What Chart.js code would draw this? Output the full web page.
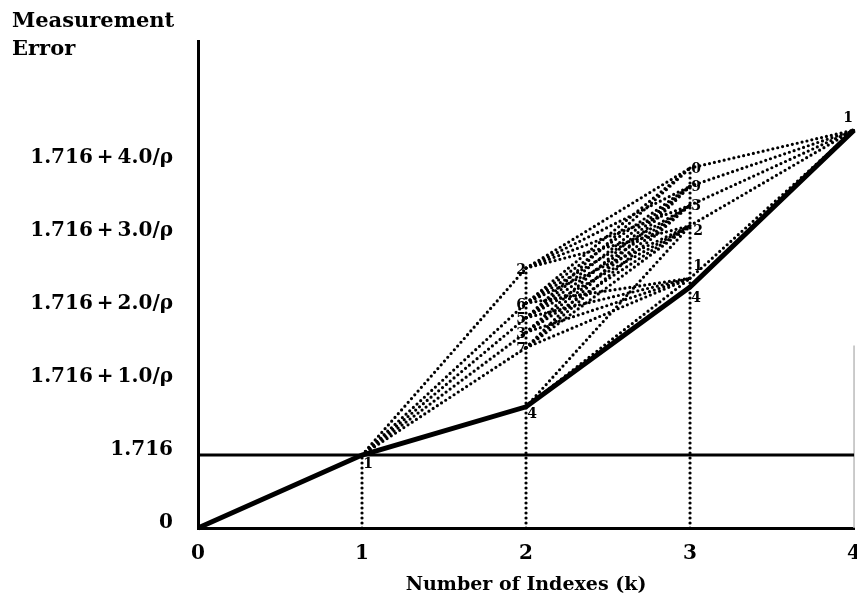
<!DOCTYPE html>
<html>
<head>
<meta charset="utf-8">
<script src="https://cdn.jsdelivr.net/npm/chart.js@4.4.1/dist/chart.umd.min.js"></script>
<style>
  html, body { margin: 0; padding: 0; background: #fff; overflow: hidden; }
  #wrap { width: 857px; height: 598px; overflow: hidden; }
</style>
</head>
<body>
<div id="wrap"><canvas id="chart" width="875" height="598"></canvas></div>
<script>
// y is in plot units: 1 unit = the 1.716 step = one 1.0/ρ step
const kTicks = [0, 1, 2, 3, 4];
const errorTicks = [0, 1, 2, 3, 4, 5];
const errorTickLabels = ['0', '1.716', '1.716\u2009+\u20091.0/ρ', '1.716\u2009+\u20092.0/ρ', '1.716\u2009+\u20093.0/ρ', '1.716\u2009+\u20094.0/ρ'];

// lattice nodes
const firstValue = 1.0;
const firstLabel = '1';
const midLabels = ['2', '6', '5', '3', '7', '4'];
const midValues = [3.56, 3.08, 2.88, 2.68, 2.47, 1.66];
const upperLabels = ['0', '9', '3', '2', '1', '4'];
const upperValues = [4.93, 4.68, 4.42, 4.14, 3.42, 3.30];
const endValue = 5.45;
const endLabel = '1';

// solid best path, k = 0..4
const bestPath = [0, 1.0, 1.66, 3.30, 5.45];
const baselineValue = 1.0;

// dotted links (index pairs)
const firstToMid = [0, 1, 2, 3, 4];
const midToUpper = [
  [0, 0], [0, 1], [0, 2], [0, 3],
  [1, 0], [1, 1], [1, 2], [1, 3], [1, 4],
  [2, 0], [2, 1], [2, 2], [2, 3], [2, 4],
  [3, 1], [3, 2], [3, 3], [3, 4],
  [4, 1], [4, 2], [4, 3], [4, 4],
  [5, 3], [5, 4]
];
const upperToEnd = [0, 1, 2, 3, 4];

const serif = "'DejaVu Serif', 'Liberation Serif', serif";

function dotted(points) {
  return {
    data: points, showLine: true, pointRadius: 0, borderColor: '#000',
    borderWidth: 3.2, borderDash: [0, 5], borderCapStyle: 'round', clip: 10
  };
}
function solid(points, width) {
  return {
    data: points, showLine: true, pointRadius: 0, borderColor: '#000',
    borderWidth: width, borderCapStyle: 'butt', borderJoinStyle: 'miter', clip: 10
  };
}

const datasets = [];
// vertical drop lines
datasets.push(dotted([{ x: 1, y: 0 }, { x: 1, y: firstValue }]));
datasets.push(dotted([{ x: 2, y: 0 }, { x: 2, y: Math.max(...midValues) }]));
datasets.push(dotted([{ x: 3, y: 0 }, { x: 3, y: Math.max(...upperValues) }]));
// fan k=1 -> k=2
firstToMid.forEach((j) => datasets.push(dotted([{ x: 1, y: firstValue }, { x: 2, y: midValues[j] }])));
// k=2 -> k=3
midToUpper.forEach(([a, b]) => datasets.push(dotted([{ x: 2, y: midValues[a] }, { x: 3, y: upperValues[b] }])));
// k=3 -> k=4
upperToEnd.forEach((j) => datasets.push(dotted([{ x: 3, y: upperValues[j] }, { x: 4, y: endValue }])));
// 1.716 reference line
datasets.push(solid([{ x: 0, y: baselineValue }, { x: 4, y: baselineValue }], 3));
// right edge mark
datasets.push({ ...solid([{ x: 4, y: 0 }, { x: 4, y: 2.5 }], 1.5), borderColor: '#bbb' });
// best path
datasets.push(solid(bestPath.map((v, i) => ({ x: kTicks[i], y: v })), 5));

const nodeLabels = {
  id: 'nodeLabels',
  afterDraw(chart) {
    const { ctx, scales: { x, y } } = chart;
    ctx.save();
    ctx.fillStyle = '#000';
    ctx.textAlign = 'center';
    ctx.textBaseline = 'middle';
    ctx.font = `bold 14px ${serif}`;
    const put = (k, v, text, dx, dy) => ctx.fillText(text, x.getPixelForValue(k) + dx, y.getPixelForValue(v) + dy);
    put(1, firstValue, firstLabel, 6, 9);
    midLabels.forEach((t, i) => {
      if (t === '4') put(2, midValues[i], t, 6, 8);
      else put(2, midValues[i], t, -5, 2);
    });
    upperLabels.forEach((t, i) => {
      if (t === '4') put(3, upperValues[i], t, 6, 11);
      else if (t === '1') put(3, upperValues[i], t, 8, -12);
      else if (t === '2') put(3, upperValues[i], t, 8, 6);
      else put(3, upperValues[i], t, 6, 1);
    });
    put(4, endValue, endLabel, -6, -12);

    ctx.font = `bold 21px ${serif}`;
    ctx.textAlign = 'left';
    ctx.fillText('Measurement', 12, 22);
    ctx.fillText('Error', 12, 50);
    ctx.restore();
  }
};

new Chart(document.getElementById('chart'), {
  type: 'scatter',
  data: { datasets },
  plugins: [nodeLabels],
  options: {
    responsive: false,
    animation: false,
    layout: { padding: { top: 41, right: 0, left: 0, bottom: 0 } },
    plugins: { legend: { display: false }, tooltip: { enabled: false } },
    scales: {
      x: {
        type: 'linear', min: 0, max: 4,
        afterBuildTicks: (s) => { s.ticks = kTicks.map((v) => ({ value: v })); },
        afterFit: (s) => { s.height = 70; },
        grid: { display: false, drawTicks: false },
        border: { display: true, width: 3, color: '#000' },
        ticks: { padding: 14, color: '#000', font: { family: serif, size: 20, weight: 'bold' } },
        title: {
          display: true, text: 'Number of Indexes (k)', color: '#000',
          font: { family: serif, size: 19, weight: 'bold' }, padding: { top: 0, bottom: 2 }
        }
      },
      y: {
        type: 'linear', min: 0, max: 6.67,
        afterBuildTicks: (s) => { s.ticks = errorTicks.map((v) => ({ value: v })); },
        afterFit: (s) => { s.width = 198; },
        grid: { display: false, drawTicks: false },
        border: { display: true, width: 3, color: '#000' },
        ticks: {
          padding: 25, labelOffset: -5, color: '#000',
          font: { family: serif, size: 20, weight: 'bold' },
          callback: (v) => errorTickLabels[errorTicks.indexOf(v)]
        }
      }
    }
  }
});
</script>
</body>
</html>
